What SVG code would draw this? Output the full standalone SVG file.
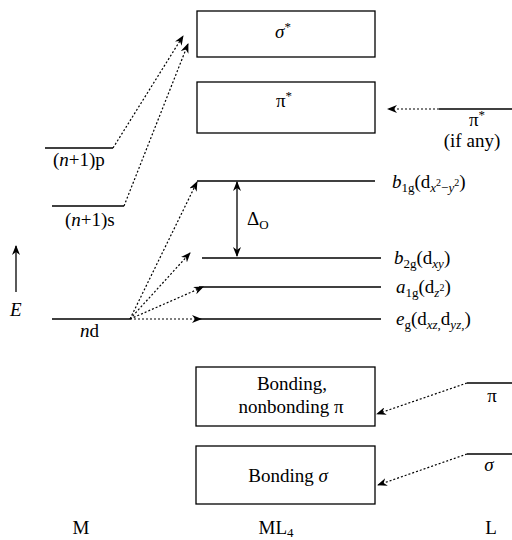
<svg xmlns="http://www.w3.org/2000/svg" width="512" height="540" viewBox="0 0 512 540" font-family="Liberation Serif, Times New Roman, serif" font-size="19">
<style>
text{font-family:'Liberation Serif', 'Times New Roman', serif;font-size:19px;fill:#000}
.i{font-style:italic}
.s{font-size:13px}
.ss{font-size:10px}
.box{fill:#fff;stroke:#000;stroke-width:1.3}
.lv{stroke:#000;stroke-width:1.3;fill:none}
.dot{stroke:#000;stroke-width:1.2;stroke-dasharray:2 2;fill:none}
.sol{stroke:#000;stroke-width:1.3;fill:none}
</style>
<defs>
<marker id="ah" viewBox="0 0 10 8" refX="9" refY="4" markerWidth="10" markerHeight="8" markerUnits="userSpaceOnUse" orient="auto-start-reverse">
<path d="M0,0 L10,4 L0,8 L3,4 Z" fill="#000"/>
</marker>
</defs>

<g id="sigma-star">
<rect class="box" x="197" y="11" width="178" height="46"/>
<text x="283" y="38" text-anchor="middle"><tspan class="i">σ</tspan><tspan class="s" dy="-7">*</tspan></text>
</g>
<g id="pi-star">
<rect class="box" x="197" y="82" width="178" height="51"/>
<text x="284" y="107" text-anchor="middle">π<tspan class="s" dy="-7">*</tspan></text>
</g>
<g id="b1g">
<line class="lv" x1="197" y1="181" x2="375" y2="181"/>
<text x="392" y="188"><tspan class="i">b</tspan><tspan class="s" dy="4">1g</tspan><tspan dy="-4">(d</tspan><tspan class="s i" dy="4">x</tspan><tspan class="ss" dy="-6">2</tspan><tspan class="s" dy="6">−</tspan><tspan class="s i">y</tspan><tspan class="ss" dy="-6">2</tspan><tspan dy="2">)</tspan></text>
</g>
<g id="b2g">
<line class="lv" x1="202" y1="258" x2="381" y2="258"/>
<text x="394" y="264"><tspan class="i">b</tspan><tspan class="s" dy="4">2g</tspan><tspan dy="-4">(d</tspan><tspan class="s i" dy="4">xy</tspan><tspan dy="-4">)</tspan></text>
</g>
<g id="a1g">
<line class="lv" x1="199" y1="287" x2="381" y2="287"/>
<text x="396" y="293"><tspan class="i">a</tspan><tspan class="s" dy="4">1g</tspan><tspan dy="-4">(d</tspan><tspan class="s i" dy="4">z</tspan><tspan class="ss" dy="-6">2</tspan><tspan dy="2">)</tspan></text>
</g>
<g id="eg">
<line class="lv" x1="199" y1="319" x2="381" y2="319"/>
<text x="396" y="325"><tspan class="i">e</tspan><tspan class="s" dy="4">g</tspan><tspan dy="-4">(d</tspan><tspan class="s i" dy="4">xz,</tspan><tspan dy="-4">d</tspan><tspan class="s i" dy="4">yz,</tspan><tspan dy="-4">)</tspan></text>
</g>
<g id="bonding-pi">
<rect class="box" x="196" y="367" width="179" height="59"/>
<text x="292" y="390" text-anchor="middle">Bonding,</text>
<text x="291" y="413" text-anchor="middle">nonbonding π</text>
</g>
<g id="bonding-sigma">
<rect class="box" x="196" y="446" width="179" height="58"/>
<text x="288" y="482" text-anchor="middle">Bonding <tspan class="i">σ</tspan></text>
</g>
<g id="np1p">
<line class="lv" x1="45" y1="148" x2="113" y2="148"/>
<text x="53" y="166">(<tspan class="i">n</tspan>+1)p</text>
</g>
<g id="np1s">
<line class="lv" x1="52" y1="206" x2="124" y2="206"/>
<text x="65" y="226">(<tspan class="i">n</tspan>+1)s</text>
</g>
<g id="nd">
<line class="lv" x1="52" y1="319" x2="130" y2="319"/>
<text x="80" y="337"><tspan class="i">n</tspan>d</text>
</g>
<g id="L-pi-star">
<line class="lv" x1="439" y1="109" x2="512" y2="109"/>
<text x="477" y="126" text-anchor="middle">π<tspan class="s" dy="-7">*</tspan></text>
<text x="472" y="147" text-anchor="middle">(if any)</text>
</g>
<g id="L-pi">
<line class="lv" x1="467" y1="383" x2="512" y2="383"/>
<text x="492" y="402" text-anchor="middle">π</text>
</g>
<g id="L-sigma">
<line class="lv" x1="467" y1="454" x2="512" y2="454"/>
<text x="489" y="471" text-anchor="middle" class="i">σ</text>
</g>
<g id="energy-axis">
<line class="sol" x1="16" y1="292" x2="16" y2="246" marker-end="url(#ah)"/>
<text x="10" y="316" class="i">E</text>
</g>
<g id="delta-o">
<line class="sol" x1="237" y1="182" x2="237" y2="256" marker-start="url(#ah)" marker-end="url(#ah)"/>
<text x="247" y="225">Δ<tspan class="s" dy="4">O</tspan></text>
</g>
<g id="column-labels">
<text x="81" y="534" text-anchor="middle">M</text>
<text x="276" y="534" text-anchor="middle">ML<tspan class="s" dy="3">4</tspan></text>
<text x="491" y="534" text-anchor="middle">L</text>
</g>

<g id="connectors">
<line class="dot" x1="113" y1="148" x2="183" y2="36" marker-end="url(#ah)"/>
<line class="dot" x1="124" y1="206" x2="188" y2="44" marker-end="url(#ah)"/>
<line class="dot" x1="130" y1="319" x2="197" y2="182" marker-end="url(#ah)"/>
<line class="dot" x1="130" y1="319" x2="190" y2="253" marker-end="url(#ah)"/>
<line class="dot" x1="130" y1="319" x2="203" y2="287" marker-end="url(#ah)"/>
<line class="dot" x1="130" y1="319" x2="201" y2="319" marker-end="url(#ah)"/>
<line class="dot" x1="439" y1="109" x2="388" y2="109" marker-end="url(#ah)"/>
<line class="dot" x1="467" y1="383" x2="377" y2="414" marker-end="url(#ah)"/>
<line class="dot" x1="467" y1="454" x2="378" y2="485" marker-end="url(#ah)"/>
</g>
</svg>
